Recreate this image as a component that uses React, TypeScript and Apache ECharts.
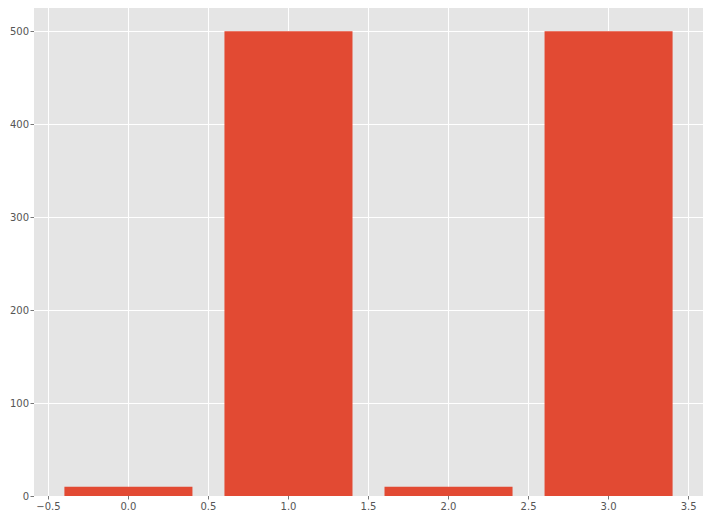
import React, { useEffect, useRef } from "react";
import * as echarts from "echarts";

const xPositions = [0, 1, 2, 3];
const barValues = [10, 500, 10, 500];
const xTicks = [-0.5, 0, 0.5, 1, 1.5, 2, 2.5, 3, 3.5];
const yTicks = [0, 100, 200, 300, 400, 500];
const BAR_WIDTH = 0.8;

export default function App() {
  const ref = useRef<HTMLDivElement>(null);
  useEffect(() => {
    const chart = echarts.init(ref.current!, null, { renderer: "svg" });
    const data = xPositions.map((x, i) => [x, barValues[i]]);
    chart.setOption({
      animation: false,
      backgroundColor: "#ffffff",
      grid: {
        left: 34,
        right: 7,
        top: 8,
        bottom: 24,
        show: true,
        backgroundColor: "#E5E5E5",
        borderWidth: 0,
      },
      xAxis: {
        type: "value",
        min: -0.59,
        max: 3.59,
        axisLine: { show: false, onZero: false },
        axisTick: {
          show: true,
          length: 3.5,
          lineStyle: { color: "#555555", width: 0.8 },
          customValues: xTicks,
        },
        axisLabel: {
          customValues: xTicks,
          color: "#555555",
          fontFamily: "DejaVu Sans",
          fontSize: 10,
          margin: 5,
          formatter: (v: number) => v.toFixed(1).replace("-", "\u2212"),
        },
        splitLine: { show: true, lineStyle: { color: "#ffffff", width: 1 } },
      },
      yAxis: {
        type: "value",
        min: 0,
        max: 525,
        axisLine: { show: false, onZero: false },
        axisTick: {
          show: true,
          length: 3.5,
          lineStyle: { color: "#555555", width: 0.8 },
          customValues: yTicks,
        },
        axisLabel: {
          customValues: yTicks,
          color: "#555555",
          fontFamily: "DejaVu Sans",
          fontSize: 10,
          margin: 5,
        },
        splitLine: { show: true, lineStyle: { color: "#ffffff", width: 1 } },
      },
      series: [
        {
          type: "custom",
          data,
          renderItem: (params: any, api: any) => {
            const x = api.value(0);
            const y = api.value(1);
            const p0 = api.coord([x - BAR_WIDTH / 2, y]);
            const p1 = api.coord([x + BAR_WIDTH / 2, 0]);
            return {
              type: "rect",
              shape: { x: p0[0], y: p0[1], width: p1[0] - p0[0], height: p1[1] - p0[1] },
              style: { fill: "#E24A33", stroke: "none", lineWidth: 0 },
            };
          },
        },
      ],
    });
    return () => chart.dispose();
  }, []);
  return <div ref={ref} style={{ width: 710, height: 520, position: "absolute", left: 0, top: 0 }} />;
}
